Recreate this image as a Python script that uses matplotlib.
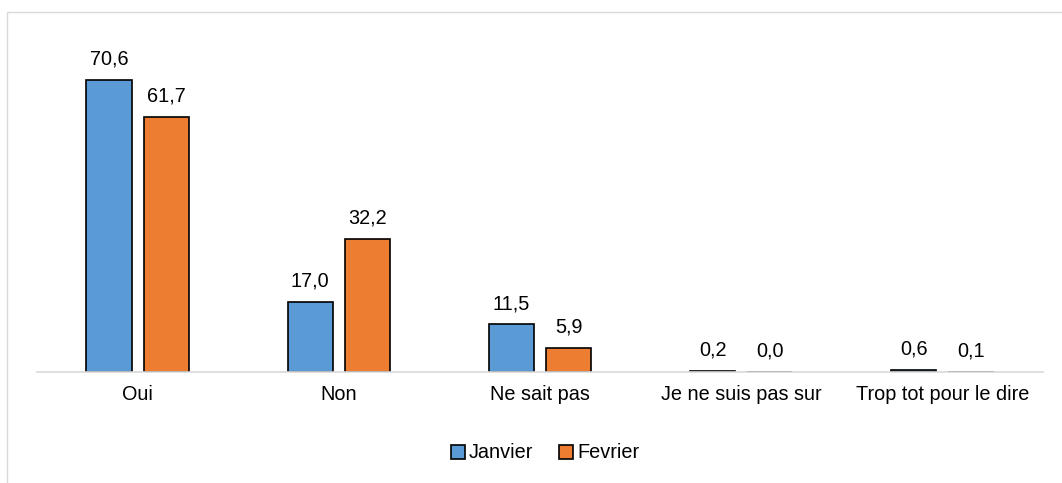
import matplotlib.pyplot as plt
import numpy as np
from matplotlib.patches import Rectangle

categories = ['Oui', 'Non', 'Ne sait pas', 'Je ne suis pas sur', 'Trop tot pour le dire']
janvier = [70.6, 17.0, 11.5, 0.2, 0.6]
fevrier = [61.7, 32.2, 5.9, 0.0, 0.1]

plt.rcParams['font.family'] = ['Liberation Sans', 'DejaVu Sans']
fs = 14.3

fig = plt.figure(figsize=(10.62, 4.83), dpi=100)
ax = fig.add_axes([37 / 1062, 111 / 483, 1006 / 1062, 331 / 483])

# outer chart border (runs off the right and bottom edges)
fig.patches.append(Rectangle((7 / 1062, -0.1), 1.2, (483 - 12) / 483 + 0.1,
                             transform=fig.transFigure, fill=False,
                             edgecolor='#D9D9D9', linewidth=1))

x = np.arange(len(categories))
w = 0.224
off = 0.142
b1 = ax.bar(x - off, janvier, w, color='#5B9BD5', edgecolor='black', linewidth=1.2, label='Janvier')
b2 = ax.bar(x + off, fevrier, w, color='#ED7D31', edgecolor='black', linewidth=1.2, label='Fevrier')

for bars, vals in [(b1, janvier), (b2, fevrier)]:
    for rect, v in zip(bars, vals):
        ax.annotate(f'{v:.1f}'.replace('.', ','), (rect.get_x() + rect.get_width() / 2, v),
                    xytext=(0, 11), textcoords='offset points', ha='center', va='baseline',
                    fontsize=fs)

ax.set_xlim(-0.5, 4.5)
ax.set_ylim(0, 80)
ax.set_xticks(x)
ax.set_xticklabels(categories, fontsize=fs)
ax.tick_params(axis='x', length=0, pad=9)
ax.set_yticks([])
for s in ['top', 'right', 'left']:
    ax.spines[s].set_visible(False)
ax.spines['bottom'].set_color('#D9D9D9')
ax.spines['bottom'].set_linewidth(1.2)

fig.legend(loc='center', bbox_to_anchor=(545 / 1062, 1 - 453 / 483), ncol=2, frameon=False,
           fontsize=fs, handlelength=0.7, handleheight=0.7, handletextpad=0.2, columnspacing=1.3)

fig.savefig('out.png', dpi=100)
